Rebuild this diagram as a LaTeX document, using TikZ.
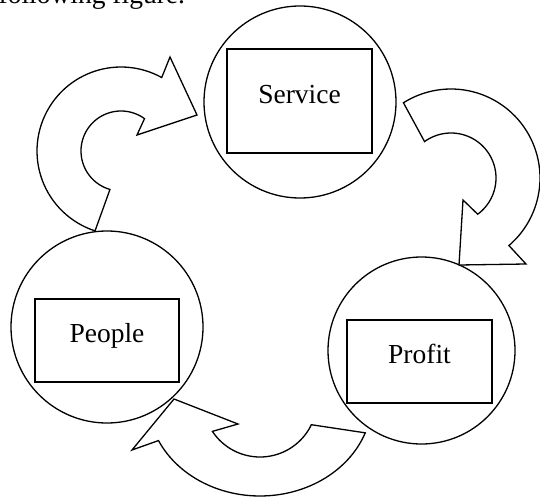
\documentclass[tikz,border=0pt]{standalone}
\usepackage{fontspec}
\setmainfont{Liberation Serif}
\begin{document}
\begin{tikzpicture}[x=1pt,y=-1pt,
  line width=1.3pt,
  ring/.style={circle,draw,fill=white,inner sep=0pt},
  box/.style={rectangle,draw,fill=white,inner sep=0pt,font=\fontsize{27.5}{33}\selectfont,text height=0.66em,text depth=0.2em},
  blockarrow/.style={draw,fill=white,line join=miter}]
\useasboundingbox (0,0) rectangle (540,497);
% cut-off text at top
\node[anchor=base west,inner sep=0pt,font=\fontsize{27.5}{33}\selectfont] (caption) at (-2,4) {following figure.};
% circles
\node[ring,minimum size=192pt] (cs) at (300,102) {};
\node[ring,minimum size=192pt] (cp) at (107,327) {};
\node[ring,minimum size=187pt] (cf) at (421.5,350.5) {};
% boxes
\node[box,minimum width=145pt,minimum height=104pt] (service) at (299.5,101) {Service};
\node[box,minimum width=144pt,minimum height=83pt] (people) at (107,340.5) {People};
\node[box,minimum width=145pt,minimum height=83pt] (profit) at (419.5,361.5) {Profit};
% curved arrow: People -> Service
\draw[blockarrow] plot[domain=108:299,samples=60] ({121+84*cos(\x)},{151+84*sin(\x)})
  -- (170,57) -- (197,115) -- (137,135)
  -- plot[domain=306:106,samples=60] ({121+40*cos(\x)},{151+40*sin(\x)}) -- cycle;
% curved arrow: Service -> Profit
\draw[blockarrow] plot[domain=237.7:409.4,samples=60] ({451+89*cos(\x)},{178+89*sin(\x)})
  -- (526,264) -- (459,265) -- (463,200)
  -- plot[domain=413.6:234,samples=60] ({451+45*cos(\x)},{178+45*sin(\x)}) -- cycle;
% curved arrow: Profit -> People
\draw[blockarrow] plot[domain=20:155,samples=60] ({260+112*cos(\x)},{400+96*sin(\x)})
  -- (132,450) -- (174,399) -- (238,424)
  -- plot[domain=146.6:25.7,samples=60] ({260+57*cos(\x)},{400+57*sin(\x)}) -- cycle;
\end{tikzpicture}
\end{document}
